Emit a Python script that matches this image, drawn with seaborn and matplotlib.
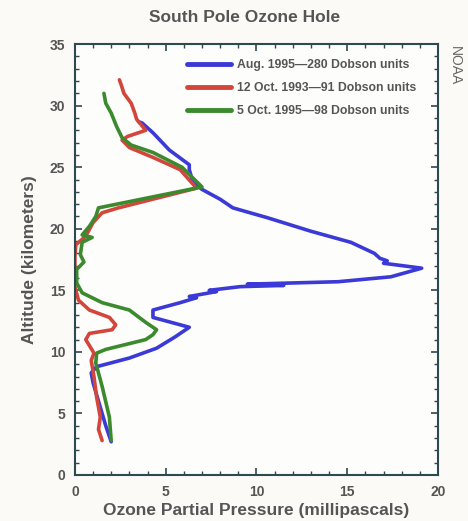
import numpy as np
import pandas as pd
import matplotlib
matplotlib.use("Agg")
import matplotlib.pyplot as plt
import seaborn as sns
from matplotlib.ticker import MultipleLocator

series_names = ["Aug. 1995\u2014280 Dobson units",
                "12 Oct. 1993\u201491 Dobson units",
                "5 Oct. 1995\u201498 Dobson units"]

aug95_pressure = [2.0, 1.7, 1.4, 1.2, 1.0, 0.9, 1.2, 3.0, 4.5, 5.5, 6.3, 4.3, 4.3, 5.8, 6.7, 6.3, 7.8, 7.4,
                  9.1, 11.5, 9.5, 14.5, 17.4, 19.1, 17.0, 17.2, 16.8, 16.5, 15.2, 13.0, 10.6, 8.7,
                  8.0, 7.0, 6.5, 6.3, 6.3, 5.2, 4.3, 3.7, 3.5]
aug95_alt = [2.7, 4.0, 5.5, 6.5, 7.5, 8.3, 8.8, 9.5, 10.3, 11.2, 12.0, 12.8, 13.4, 14.0, 14.4, 14.5, 14.9, 15.0,
             15.3, 15.4, 15.5, 15.7, 16.1, 16.8, 17.2, 17.4, 17.6, 18.0, 18.9, 19.8, 20.9, 21.7,
             22.4, 23.2, 23.8, 24.8, 25.2, 26.4, 27.8, 28.6, 28.7]

oct93_pressure = [1.5, 1.3, 1.4, 1.2, 1.05, 0.9, 1.05, 0.6, 0.8, 2.05, 2.25, 1.9, 0.8, 0.2, 0.0,
                  0.0, 0.05, 0.6, 1.0, 1.5, 2.4, 6.7, 5.8, 4.3, 3.0, 2.6, 2.9, 3.9, 3.4, 3.3,
                  3.1, 2.7, 2.55, 2.45]
oct93_alt = [2.8, 3.7, 4.7, 6.3, 8.0, 9.3, 9.9, 11.0, 11.5, 11.8, 12.2, 12.8, 13.4, 14.2, 15.3,
             17.7, 18.7, 19.4, 20.5, 21.3, 21.7, 23.3, 24.8, 25.8, 26.6, 27.2, 27.5, 28.0, 28.9, 29.4,
             30.2, 31.0, 31.7, 32.1]

oct95_pressure = [2.0, 1.9, 1.5, 1.15, 1.2, 1.7, 3.9, 4.3, 4.5, 3.9, 3.0, 1.5, 0.4, 0.1, 0.1,
                  0.5, 0.3, 0.4, 0.95, 0.4, 0.8, 1.15, 1.3, 7.0, 5.9, 4.3, 3.1, 2.6, 2.3, 2.0,
                  1.7, 1.6]
oct95_alt = [2.8, 4.7, 7.2, 9.1, 9.9, 10.2, 11.0, 11.4, 11.8, 12.4, 13.4, 14.0, 14.8, 15.6, 16.7,
             17.3, 17.9, 18.9, 19.3, 19.5, 20.2, 21.0, 21.7, 23.4, 25.0, 26.2, 26.8, 27.4, 28.3, 29.4,
             30.2, 31.0]

x_ticks = [0, 5, 10, 15, 20]
y_ticks = [0, 5, 10, 15, 20, 25, 30, 35]

frames = []
for name, xs, ys in [(series_names[0], aug95_pressure, aug95_alt),
                     (series_names[1], oct93_pressure, oct93_alt),
                     (series_names[2], oct95_pressure, oct95_alt)]:
    frames.append(pd.DataFrame({"pressure": xs, "altitude": ys, "series": name}))
df = pd.concat(frames, ignore_index=True)

sns.set_style("ticks")
plt.rcParams['font.family'] = ['Liberation Sans', 'DejaVu Sans']

fig = plt.figure(figsize=(4.68, 5.21), dpi=100, facecolor="#fbfaf6")
ax = fig.add_axes([0.160, 0.0883, 0.776, 0.827])
ax.set_facecolor("#fdfdfb")

palette = {series_names[0]: "#3b3ad6", series_names[1]: "#d2463c", series_names[2]: "#3c8a2e"}
sns.lineplot(data=df, x="pressure", y="altitude", hue="series", hue_order=series_names,
             palette=palette, sort=False, estimator=None, units="series", linewidth=2.6,
             ax=ax, legend=True)

ax.set_xlim(0, 20)
ax.set_ylim(0, 35)
ax.set_xticks(x_ticks)
ax.set_yticks(y_ticks)
ax.xaxis.set_minor_locator(MultipleLocator(1))
ax.yaxis.set_minor_locator(MultipleLocator(1))
ax.tick_params(which="both", direction="in", top=True, right=True, color="#2d4a50")
ax.tick_params(which="major", length=5, width=1.2, labelsize=10, labelcolor="#555555", pad=7)
ax.tick_params(which="minor", length=3, width=1)
for lab in ax.get_xticklabels() + ax.get_yticklabels():
    lab.set_fontweight("bold")
for s in ax.spines.values():
    s.set_color("#2d4a50")
    s.set_linewidth(1.5)

ax.set_xlabel("Ozone Partial Pressure (millipascals)", fontsize=12.5, fontweight="bold",
              color="#555555", labelpad=3)
ax.set_ylabel("Altitude (kilometers)", fontsize=12.5, fontweight="bold", color="#555555", labelpad=9)
fig.text(0.523, 0.967, "South Pole Ozone Hole", ha="center", va="center", fontsize=12.5,
         fontweight="bold", color="#555555")
fig.text(0.972, 0.875, "NOAA", ha="center", va="center", rotation=-90, fontsize=10, color="#666666")

leg = ax.legend(loc="upper left", bbox_to_anchor=(0.308, 0.966), frameon=False, fontsize=8.8,
                handlelength=3.6, labelspacing=0.9, handletextpad=0.5, borderaxespad=0, borderpad=0)
for t in leg.get_texts():
    t.set_fontweight("bold")
    t.set_color("#555555")
for l in leg.get_lines():
    l.set_linewidth(3.5)

fig.savefig("out.png", dpi=100, facecolor=fig.get_facecolor())
